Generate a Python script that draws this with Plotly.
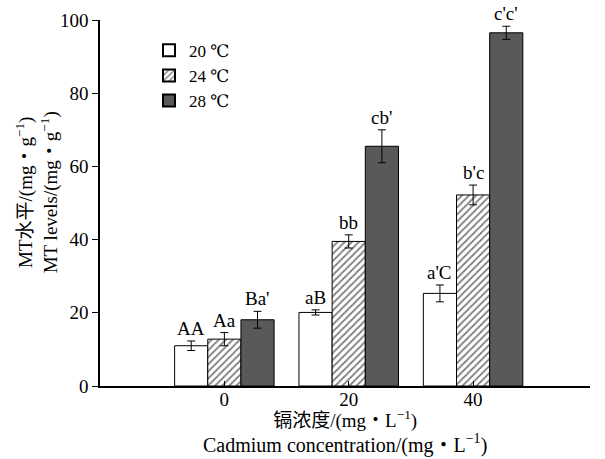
import plotly.graph_objects as go

categories = ["0", "20", "40"]
series_names = ["20 ℃", "24 ℃", "28 ℃"]
values_20 = [11.0, 20.1, 25.3]
values_24 = [12.8, 39.5, 52.2]
values_28 = [18.1, 65.5, 96.5]
err_20 = [1.3, 0.7, 2.3]
err_24 = [1.8, 1.8, 2.7]
err_28 = [2.3, 4.5, 1.8]
labels_20 = ["AA", "aB", "a'C"]
labels_24 = ["Aa", "bb", "b'c"]
labels_28 = ["Ba'", "cb'", "c'c'"]

SERIF = "Liberation Serif, Times New Roman, Noto Sans CJK SC, serif"
LEGEND_FONT = "Liberation Serif, DejaVu Serif, serif"
xs = list(range(len(categories)))

fig = go.Figure()
styles = [
    dict(color="white", pattern=None),
    dict(color="white", pattern=dict(shape="/", fgcolor="black", bgcolor="white", size=5, solidity=0.35)),
    dict(color="#595959", pattern=None),
]
vals = [values_20, values_24, values_28]
errs = [err_20, err_24, err_28]
labs = [labels_20, labels_24, labels_28]
for name, v, e, st in zip(series_names, vals, errs, styles):
    marker = dict(color=st["color"], line=dict(color="black", width=1))
    if st["pattern"]:
        marker["pattern"] = st["pattern"]
    fig.add_trace(go.Bar(
        x=xs, y=v, name=name, marker=marker,
        error_y=dict(type="data", array=e, color="black", thickness=1, width=4),
    ))

bw = 0.8 / 3
for k, (v, e, lab) in enumerate(zip(vals, errs, labs)):
    for i in range(len(categories)):
        fig.add_annotation(
            x=xs[i] + (k - 1) * bw, y=v[i] + e[i], text=lab[i],
            showarrow=False, yanchor="bottom", yshift=0,
            font=dict(family=SERIF, size=19, color="black"),
        )

# x-axis title (two lines) placed under the tick labels
fig.add_annotation(
    xref="paper", yref="paper", x=0.5, y=0, yshift=-19, xanchor="center", yanchor="top",
    text="镉浓度/(mg・L<sup>−1</sup>)<br><span style='font-size:20px'>Cadmium concentration/(mg・L<sup>−1</sup>)</span>",
    showarrow=False, font=dict(family=SERIF, size=19, color="black"),
)
# y-axis title (two lines, rotated)
fig.add_annotation(
    xref="paper", yref="paper", x=-0.128, y=0.53, xanchor="center", yanchor="middle",
    textangle=-90,
    text="MT水平/(mg・g<sup>−1</sup>)<br>MT levels/(mg・g<sup>−1</sup>)",
    showarrow=False, font=dict(family=SERIF, size=19, color="black"),
)

fig.update_layout(
    width=605, height=459,
    margin=dict(l=100, r=15, t=20, b=73, autoexpand=False),
    plot_bgcolor="white", paper_bgcolor="white",
    barmode="group", bargap=0.2, bargroupgap=0,
    font=dict(family=SERIF, size=19, color="black"),
    showlegend=True,
    legend=dict(x=0.1, y=0.965, xanchor="left", yanchor="top",
                bgcolor="rgba(0,0,0,0)", font=dict(family=LEGEND_FONT, size=17),
                tracegroupgap=0, itemsizing="constant"),
    xaxis=dict(
        range=[-1, 2.94], tickmode="array", tickvals=xs, ticktext=categories,
        showline=True, linecolor="black", linewidth=1.5,
        ticks="inside", ticklen=5, tickcolor="black", showgrid=False, zeroline=False,
        tickfont=dict(family=SERIF, size=19), automargin=False, ticklabelstandoff=-5,
    ),
    yaxis=dict(
        range=[0, 100], tickvals=[0, 20, 40, 60, 80, 100],
        showline=True, linecolor="black", linewidth=1.5,
        ticks="outside", ticklen=6, tickcolor="black", showgrid=False, zeroline=False,
        tickfont=dict(family=SERIF, size=19), automargin=False,
    ),
)

fig.write_html("out.html", config={"displayModeBar": False},
               post_script="document.body.style.margin='0';document.body.style.padding='0';")
